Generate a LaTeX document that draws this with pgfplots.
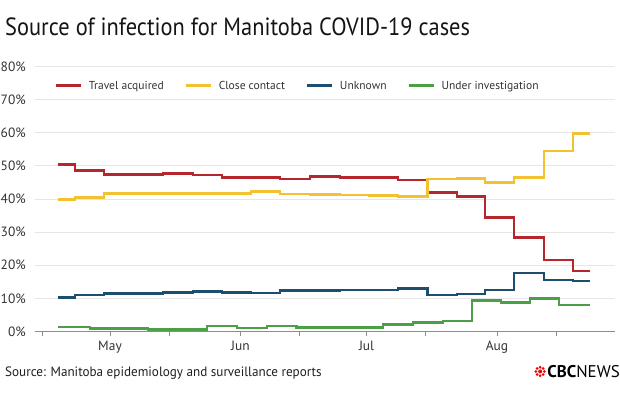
\documentclass[border=0pt]{standalone}
\usepackage{pgfplots}
\pgfplotsset{compat=1.18}
\usetikzlibrary{calc}
\usepackage{fontspec}
\setmainfont{PT Sans}
\definecolor{cred}{HTML}{B5272D}
\definecolor{cyel}{HTML}{F3C232}
\definecolor{cblue}{HTML}{1D4E6E}
\definecolor{cgreen}{HTML}{4C9E47}
\definecolor{cgrid}{HTML}{E6E6E6}
\definecolor{ctext}{HTML}{333333}
\definecolor{cbcred}{HTML}{E60505}
\begin{document}
\begin{tikzpicture}
\path[use as bounding box] (0bp,0bp) rectangle (620bp,397bp);
\node[anchor=base west, inner sep=0pt, font=\fontsize{25}{29}\selectfont, text=black!92, xscale=0.9] at (5bp,361bp) {Source of infection for Manitoba COVID-19 cases};
\begin{axis}[
 at={(35bp,65.5bp)}, anchor=south west, scale only axis,
 width=580bp, height=265.2bp,
 xmin=12.17, xmax=150.04, ymin=0, ymax=80,
 axis x line*=bottom, axis y line*=left,
 y axis line style={draw=none},
 x axis line style={draw=black!45, line width=0.8bp},
 ytick={0,10,...,80},
 ytick style={draw=none},
 yticklabel={\pgfmathprintnumber[assume math mode=true]{\tick}\%},
 yticklabel style={font=\fontsize{13.5}{15}\selectfont, text=ctext, inner sep=0pt, xshift=-5bp},
 ymajorgrids, grid style={cgrid, line width=0.8bp},
 xtick={14,30,44,61,75,91,105,122,136},
 xticklabels={,May,,Jun,,Jul,,Aug,},
 tick align=outside, major tick length=4bp,
 xtick style={draw=black!45, line width=0.6bp},
 xticklabel style={font=\fontsize{13.5}{15}\selectfont, text=ctext, inner sep=0pt, yshift=-5bp},
 legend style={at={(0.034,0.926)}, anchor=west, draw=none, fill=none,
   font=\fontsize{11.6}{14}\selectfont, text=ctext, inner sep=0pt,
   /tikz/every odd column/.append style={column sep=4bp},
   /tikz/every even column/.append style={column sep=19bp}},
 legend columns=4, legend cell align=left,
 legend image code/.code={\draw[#1, line width=3bp] (0bp,0bp) -- (25bp,0bp);},
 clip=false,
]
\addplot[cred, line width=2.6bp, const plot] coordinates {(17.6,50.4) (21.7,48.5) (28.6,47.4) (35.5,47.4) (42.6,47.7) (49.7,47.2) (56.6,46.4) (63.5,46.5) (70.4,46.0) (77.5,46.7) (84.7,46.4) (91.6,46.4) (98.5,45.7) (105.4,42.0) (112.5,40.7) (119.1,34.4) (126.0,28.4) (133.2,21.6) (140.1,18.3) (144.1,18.3)};
\addlegendentry{Travel acquired}
\addplot[cyel, line width=2.6bp, const plot] coordinates {(17.6,39.9) (21.7,40.4) (28.6,41.7) (35.5,41.7) (42.6,41.7) (49.7,41.7) (56.6,41.6) (63.5,42.3) (70.4,41.5) (77.5,41.3) (84.7,41.2) (91.6,41.0) (98.5,40.7) (105.4,46.0) (112.5,46.2) (119.1,45.0) (126.0,46.4) (133.2,54.5) (140.1,59.7) (144.1,59.7)};
\addlegendentry{Close contact}
\addplot[cblue, line width=2.6bp, const plot] coordinates {(17.6,10.3) (21.7,11.0) (28.6,11.5) (35.5,11.4) (42.6,11.7) (49.7,12.0) (56.6,11.8) (63.5,11.6) (70.4,12.3) (77.5,12.3) (84.7,12.5) (91.6,12.5) (98.5,12.9) (105.4,11.0) (112.5,11.3) (119.1,12.5) (126.0,17.7) (133.2,15.5) (140.1,15.2) (144.1,15.2)};
\addlegendentry{Unknown}
\addplot[cgreen, line width=2.6bp, const plot] coordinates {(17.6,1.3) (25.2,0.85) (39.0,0.6) (53.1,1.7) (60.2,1.0) (67.3,1.7) (74.4,1.15) (94.9,2.1) (102.0,2.7) (109.2,3.2) (116.0,9.3) (122.9,8.7) (129.8,10.0) (136.7,8.0) (144.1,8.0)};
\addlegendentry{Under investigation}
\end{axis}
\node[anchor=base west, inner sep=0pt, font=\fontsize{13.6}{16}\selectfont, text=black!88, xscale=0.97] at (5bp,21bp) {Source: Manitoba epidemiology and surveillance reports};
\node[anchor=base east, inner sep=0pt, font=\fontsize{17}{20}\selectfont, text=black] (cbc) at (620bp,20bp) {\textbf{CBC}NEWS};
\begin{scope}[shift={($(cbc.base west)+(-7bp,5.5bp)$)}]
\fill[cbcred] (0,0) circle (2bp);
\foreach \a in {0,45,...,315} {\fill[cbcred] (\a:4.2bp) circle (1.5bp);}
\end{scope}
\end{tikzpicture}
\end{document}
